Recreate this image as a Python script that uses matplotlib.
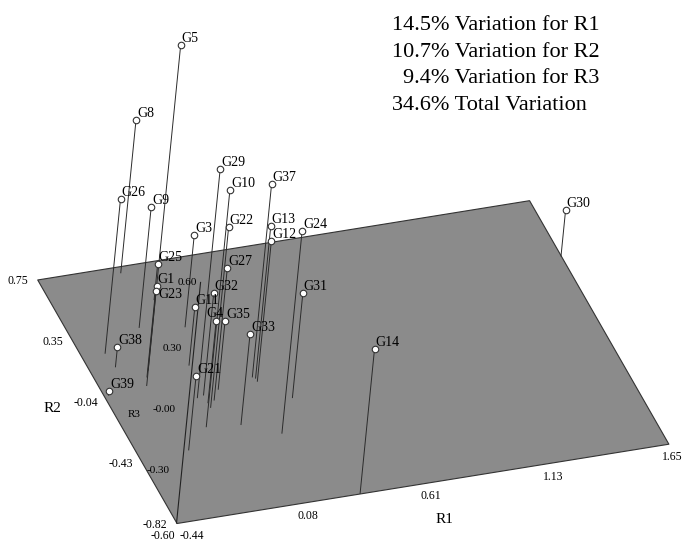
import matplotlib
matplotlib.use('Agg')
import matplotlib.pyplot as plt
from matplotlib.transforms import offset_copy
from mpl_toolkits.mplot3d import proj3d
from mpl_toolkits.mplot3d.art3d import Poly3DCollection

plt.rcParams['font.family'] = ['Liberation Serif', 'DejaVu Serif']

# coordinates of the genotypes on the first three axes
genotypes = ['G1', 'G3', 'G4', 'G5', 'G8', 'G9', 'G10', 'G11', 'G12', 'G13',
             'G14', 'G21', 'G22', 'G23', 'G24', 'G25', 'G26', 'G27', 'G29',
             'G30', 'G31', 'G32', 'G33', 'G35', 'G37', 'G38', 'G39']
r1 = [-0.21, 0.03, -0.05, -0.25, -0.10, -0.15, -0.11, -0.04, 0.19, 0.19,
      0.34, -0.23, -0.05, -0.23, 0.17, -0.03, -0.34, -0.02, -0.08,
      1.65, 0.29, -0.05, 0.03, 0.02, 0.18, -0.33, -0.42]
r2 = [0.11, 0.33, -0.14, 0.02, 0.71, 0.37, -0.28, 0.10, -0.06, -0.04,
      -0.82, -0.40, -0.17, 0.07, -0.39, 0.52, 0.25, -0.13, -0.10,
      0.39, -0.19, -0.09, -0.30, -0.07, -0.03, 0.16, 0.00]
r3 = [-0.18, -0.14, -0.19, 1.10, 0.16, 0.00, 0.58, -0.31, 0.10, 0.16,
      0.12, -0.23, 0.30, -0.17, 0.41, -0.42, 0.17, 0.06, 0.54,
      -0.37, -0.08, -0.09, -0.15, -0.26, 0.36, -0.50, -0.58]

r1_ticks = ['-0.44', '0.08', '0.61', '1.13', '1.65']
r2_ticks = ['-0.82', '-0.43', '-0.04', '0.35', '0.75']
r3_ticks = ['-0.60', '-0.30', '-0.00', '0.30', '0.60']

variation = ['14.5% Variation for R1', '10.7% Variation for R2',
             '9.4% Variation for R3', '34.6% Total Variation']

x0, x1 = -0.44, 1.65
y0, y1 = -0.82, 0.75
z0, z1 = -0.60, 1.10

fig = plt.figure(figsize=(6.85, 5.42), dpi=100)
S = 800
cx, cy = 359, 202
ax = fig.add_axes([(cx - S / 2) / 685, (542 - cy - S / 2) / 542, S / 685, S / 542],
                  projection='3d', proj_type='ortho')
ax.computed_zorder = False
ax.set_xlim(x0, x1)
ax.set_ylim(y0, y1)
ax.set_zlim(z0, z1)
ax.set_xticks([])
ax.set_yticks([])
ax.set_zticks([])
ax.set_box_aspect((524, 407.5, 431.4), zoom=791.7 / S / 1.028)
ax.view_init(elev=37.6, azim=-113.5, roll=-5.7)
ax.set_axis_off()
M = ax.get_proj()


def put(x, y, z, s, dx, dy, **kw):
    # text placed at the projected position of a 3D point, shifted by dx, dy pixels
    px, py, _ = proj3d.proj_transform(x, y, z, M)
    ax.text2D(px, py, s, zorder=4,
              transform=offset_copy(ax.transData, fig=fig, x=dx, y=dy, units='dots'),
              **kw)


# grey floor (R1 x R2 plane)
floor = Poly3DCollection([[(x0, y0, z0), (x1, y0, z0), (x1, y1, z0), (x0, y1, z0)]],
                         facecolor='#8b8b8b', edgecolor='#333333', linewidth=0.8,
                         zorder=1)
ax.add_collection3d(floor)

# R3 axis
ax.plot([x0, x0], [y0, y0], [z0, 0.6], color='#222222', lw=0.8, zorder=2)

# stems
for i in range(len(genotypes)):
    ax.plot([r1[i], r1[i]], [r2[i], r2[i]], [z0, r3[i]],
            color='#2b2b2b', lw=0.7, zorder=2)

ax.scatter(r1, r2, r3, s=22, c='white', edgecolors='#333333', linewidths=0.8,
           depthshade=False, zorder=3)

for i, g in enumerate(genotypes):
    if g == 'G23':
        put(r1[i], r2[i], r3[i], g, 3, 3, fontsize=10, ha='left', va='top')
    elif g == 'G4':
        put(r1[i], r2[i], r3[i], g, -10, 4, fontsize=10, ha='left', va='baseline')
    else:
        put(r1[i], r2[i], r3[i], g, 1, 3, fontsize=10, ha='left', va='baseline')

# tick labels
step1 = (x1 - x0) / 4
step2 = (y1 - y0) / 4
r1_dx = [15, 8, 8, 8, 4]
for k, t in enumerate(r1_ticks):
    put(x0 + k * step1, y0, z0, t, r1_dx[k], -13, fontsize=8.5, ha='center', va='center')
for k, t in enumerate(r2_ticks):
    put(x0, y0 + k * step2, z0, t, -9, -2, fontsize=8.5, ha='right', va='center')
r3_dx = [-14, -13, -13, -13, -4]
r3_dy = [-13, -8, -7, -6, 0]
for k, t in enumerate(r3_ticks):
    if k == 0:
        put(x0, y0, z0, t, r3_dx[k], r3_dy[k], fontsize=8.5, ha='center', va='center')
    else:
        put(x0, y0, z0 + k * 0.3, t, r3_dx[k], r3_dy[k], fontsize=8,
            ha='right', va='center')

# axis names
put(0.70, y0, z0, 'R1', 0, -40, fontsize=11, ha='center', va='center')
put(x0, y0 + 2 * step2, z0, 'R2', -54, -7, fontsize=11, ha='center', va='center')
put(x0, y0, 0.0, 'R3', -54, -12, fontsize=8, ha='center', va='center')

# variation explained
fig.text(391.7 / 685, 1 - 30 / 542, variation[0], fontsize=16, va='baseline')
fig.text(391.7 / 685, 1 - 57 / 542, variation[1], fontsize=16, va='baseline')
fig.text(403.3 / 685, 1 - 83 / 542, variation[2], fontsize=16, va='baseline')
fig.text(391.7 / 685, 1 - 110 / 542, variation[3], fontsize=16, va='baseline')

fig.savefig('out.png', dpi=100)
